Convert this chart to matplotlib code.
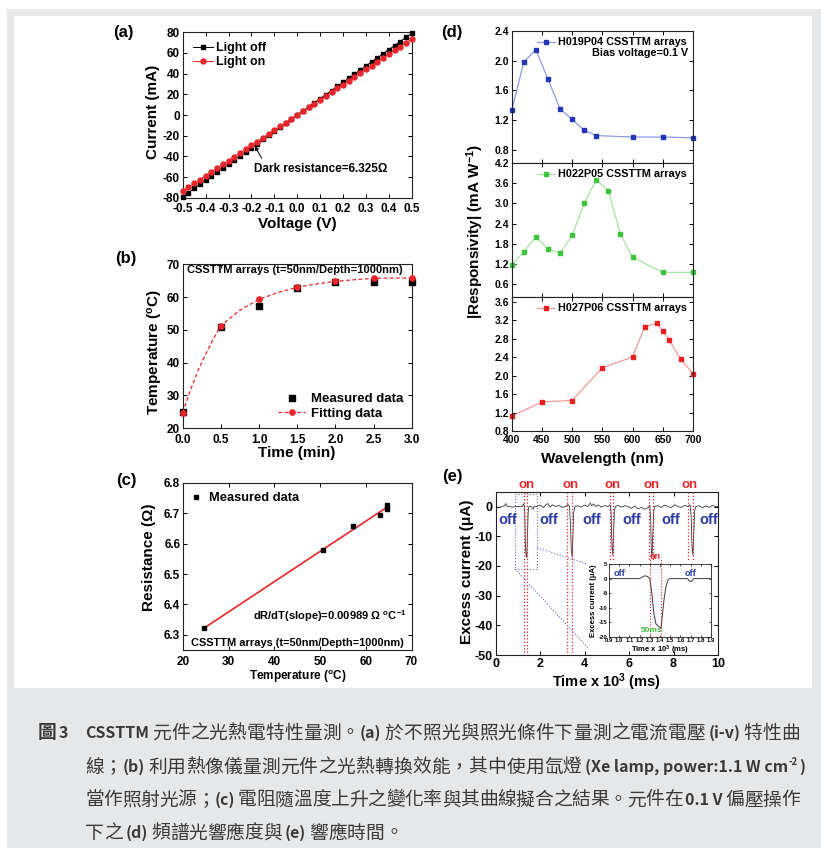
import matplotlib
matplotlib.use("Agg")
import matplotlib.pyplot as plt
from matplotlib.patches import Rectangle
from matplotlib.ticker import FormatStrFormatter, MultipleLocator

plt.rcParams.update({
    "font.family": ["Liberation Sans", "DejaVu Sans"],
    "font.weight": "bold",
    "axes.labelweight": "bold",
    "font.size": 8.5,
    "axes.linewidth": 0.8,
    "axes.edgecolor": "#222222",
    "axes.unicode_minus": False,
    "xtick.direction": "in",
    "ytick.direction": "in",
    "xtick.top": True,
    "ytick.right": True,
    "xtick.major.size": 3,
    "ytick.major.size": 3,
    "xtick.major.width": 0.7,
    "ytick.major.width": 0.7,
    "mathtext.fontset": "custom",
    "mathtext.rm": "Liberation Sans:bold",
    "mathtext.bf": "Liberation Sans:bold",
    "mathtext.it": "Liberation Sans:italic:bold",
    "mathtext.default": "regular",
})

W, H = 821, 848
GREY = "#e6e7e8"
RED = "#e8262a"
BLUE_TXT = "#2b3aa6"
ZOOM_BLUE = "#6b6bd0"
TRACE = "#3a3a3a"

# (a) i-v curves
volt = [-0.5, -0.475, -0.45, -0.425, -0.4, -0.375, -0.35, -0.325, -0.3, -0.275,
        -0.25, -0.225, -0.2, -0.175, -0.15, -0.125, -0.1, -0.075, -0.05, -0.025,
        0.0, 0.025, 0.05, 0.075, 0.1, 0.125, 0.15, 0.175, 0.2, 0.225,
        0.25, 0.275, 0.3, 0.325, 0.35, 0.375, 0.4, 0.425, 0.45, 0.475, 0.5]
i_off = [-79.1, -75.1, -71.1, -67.2, -63.2, -59.3, -55.3, -51.4, -47.4, -43.5,
         -39.5, -35.6, -31.6, -27.7, -23.7, -19.8, -15.8, -11.9, -7.9, -4.0,
         0.0, 4.0, 7.9, 11.9, 15.8, 19.8, 23.7, 27.7, 31.6, 35.6,
         39.5, 43.5, 47.4, 51.4, 55.3, 59.3, 63.2, 67.2, 71.1, 75.1, 79.1]
i_on = [-73.5, -69.8, -66.2, -62.5, -58.8, -55.1, -51.5, -47.8, -44.1, -40.4,
        -36.8, -33.1, -29.4, -25.7, -22.1, -18.4, -14.7, -11.0, -7.4, -3.7,
        0.0, 3.7, 7.4, 11.0, 14.7, 18.4, 22.1, 25.7, 29.4, 33.1,
        36.8, 40.4, 44.1, 47.8, 51.5, 55.1, 58.8, 62.5, 66.2, 69.8, 73.5]

# (b) temperature vs time
t_meas = [0.0, 0.5, 1.0, 1.5, 2.0, 2.5, 3.0]
T_meas = [25.0, 50.9, 57.4, 62.9, 64.7, 64.6, 64.6]
t_fit = [0.0, 0.1, 0.2, 0.3, 0.4, 0.5, 0.75, 1.0, 1.25, 1.5, 1.75, 2.0, 2.25, 2.5, 2.75, 3.0]
T_fit = [24.7, 31.5, 37.5, 42.5, 47.2, 51.3, 56.0, 59.3, 61.4, 63.0, 64.0, 64.8, 65.3, 65.7, 65.8, 65.8]
fit_marks = [0, 5, 7, 9, 11, 13, 15]

# (c) resistance vs temperature
temp_c = [24.6, 50.7, 57.3, 63.0, 64.6, 64.6]
res_c = [6.324, 6.579, 6.659, 6.696, 6.714, 6.727]
fitline_T = [24.6, 64.8]
fitline_R = [6.322, 6.722]

# (d) spectral responsivity
wl_1 = [400, 420, 440, 460, 480, 500, 520, 540, 600, 650, 700]
resp_1 = [1.33, 1.98, 2.15, 1.75, 1.35, 1.21, 1.06, 0.99, 0.97, 0.97, 0.96]
wl_2 = [400, 420, 440, 460, 480, 500, 520, 540, 560, 580, 600, 650, 700]
resp_2 = [1.18, 1.56, 2.00, 1.65, 1.53, 2.05, 3.00, 3.70, 3.38, 2.08, 1.40, 0.95, 0.95]
wl_3 = [400, 450, 500, 550, 600, 620, 640, 650, 660, 680, 700]
resp_3 = [1.12, 1.43, 1.46, 2.17, 2.40, 3.05, 3.13, 2.96, 2.78, 2.35, 2.04]

# (e) response time trace
e_time = [0.00, 0.15, 0.30, 0.40, 0.45, 0.50, 0.60, 0.75, 0.90, 1.05, 1.20, 1.25, 1.29, 1.31, 1.34, 1.37, 1.40, 1.43, 1.46, 1.49,
          1.60, 1.69, 1.72, 1.85, 2.00, 2.15, 2.25, 2.35, 2.45, 2.55, 2.70, 2.85, 3.00, 3.15, 3.25, 3.32, 3.36, 3.40, 3.44, 3.47, 3.51, 3.56,
          3.70, 3.85, 4.00, 4.15, 4.25, 4.32, 4.40, 4.50, 4.60, 4.75, 4.90, 5.05, 5.15, 5.19, 5.23, 5.27, 5.30, 5.34, 5.38,
          5.50, 5.65, 5.80, 5.95, 6.10, 6.25, 6.40, 6.55, 6.70, 6.85, 6.93, 6.97, 7.00, 7.03, 7.07, 7.11, 7.15,
          7.30, 7.45, 7.60, 7.75, 7.90, 8.05, 8.20, 8.35, 8.50, 8.65, 8.74, 8.79, 8.83, 8.87, 8.91, 8.95, 9.00,
          9.15, 9.30, 9.45, 9.60, 9.75, 9.90, 10.0]
e_current = [0.0, -0.3, 0.0, 0.3, 1.0, 0.2, 0.0, -0.2, 0.0, 0.0, 0.0, 0.9, 0.3, -3.0, -14.0, -16.5, -17.1, -9.0, -2.0, 0.0,
             0.0, -0.9, 0.0, 0.0, 0.5, -0.3, 0.6, 1.0, -0.2, 0.6, 0.0, 0.4, -0.3, 0.0, 0.7, 0.0, -5.0, -15.0, -17.0, -10.0, -2.0, 0.0,
             0.3, -0.2, 0.5, 0.0, 1.2, 0.2, 0.9, 0.0, 0.6, -0.2, 0.3, 0.0, 0.6, -2.0, -13.5, -16.3, -9.0, -1.5, 0.0,
             0.4, -0.2, 0.3, 0.0, -0.6, 0.2, -0.8, -0.3, -0.9, -0.4, 0.5, -4.0, -15.0, -17.3, -9.0, -1.5, 0.0,
             0.3, -0.3, 0.5, 0.0, -0.4, 0.6, 0.0, -0.3, 0.4, 0.0, 0.6, -3.0, -13.5, -16.3, -9.0, -1.5, 0.0,
             0.3, -0.4, 0.2, -0.3, 0.4, 0.0, 0.0]
on_left = [1.27, 3.19, 5.14, 6.90, 8.66]
on_right = [1.42, 3.42, 5.29, 7.06, 8.89]
on_bottom = [-50, -50, -18, -18, -18]
on_label_x = [1.38, 3.37, 5.25, 7.00, 8.74]
off_label_x = [0.52, 2.37, 4.32, 6.12, 7.87, 9.57]
zoom_box = [0.87, -21.0, 1.87, 4.2]
zoom_link_1 = ([1.87, 4.09], [-13.9, -19.3])
zoom_link_2 = ([0.87, 4.17], [-21.0, -47.8])

# (e) inset
ins_t = [0.90, 1.00, 1.10, 1.20, 1.23, 1.255, 1.28, 1.30, 1.32, 1.34, 1.36, 1.38, 1.40, 1.41,
         1.425, 1.44, 1.46, 1.48, 1.50, 1.60, 1.67, 1.69, 1.71, 1.73, 1.80, 1.90]
ins_I = [0.0, 0.0, 0.0, 0.0, 0.6, 1.0, 0.6, 0.0, -5.0, -12.0, -15.5, -16.2, -16.7, -17.0,
         -12.0, -7.0, -2.5, -0.3, 0.0, 0.0, 0.0, -0.9, -0.9, 0.0, 0.0, 0.0]
ins_on = [1.30, 1.41]
ins_off_x = [1.0, 1.7]

# caption (text, kind, gap before in px)
cap_lines = [
    [("CSSTTM", "lat", 0), ("元件之光熱電特性量測。", "cjk", 3), ("(a)", "lat", 0),
     ("於不照光與照光條件下量測之電流電壓", "cjk", 3), ("(i-v)", "lat", 3), ("特性曲", "cjk", 3)],
    [("線；", "cjk", 0), ("(b)", "lat", 0), ("利用熱像儀量測元件之光熱轉換效能，其中使用氙燈", "cjk", 3),
     ("(Xe lamp, power:1.1 W cm", "lat", 3), ("-2", "sup", 1), (")", "lat", 1)],
    [("當作照射光源；", "cjk", 0), ("(c)", "lat", 0),
     ("電阻隨溫度上升之變化率與其曲線擬合之結果。元件在", "cjk", 3), ("0.1 V", "lat", 3), ("偏壓操作", "cjk", 3)],
    [("下之", "cjk", 0), ("(d)", "lat", 3), ("頻譜光響應度與", "cjk", 3), ("(e)", "lat", 3), ("響應時間。", "cjk", 3)],
]
cap_y = [733, 767, 800, 833]
cap_end = [800, 805, 800, None]


fig = plt.figure(figsize=(W / 100, H / 100), dpi=100)
fig.patch.set_facecolor("white")
fig.add_artist(Rectangle((7 / W, 0), 1, (H - 9) / H, transform=fig.transFigure,
                         facecolor=GREY, edgecolor="none", zorder=-20))
fig.add_artist(Rectangle((14 / W, 1 - 688 / H), (812 - 14) / W, (688 - 16) / H,
                         transform=fig.transFigure, facecolor="white", edgecolor="none", zorder=-19))


def rect(l, t, r, b):
    return [l / W, 1 - b / H, (r - l) / W, (b - t) / H]


def ftext(x, y, s, **kw):
    kw.setdefault("ha", "center")
    kw.setdefault("va", "center")
    return fig.text(x / W, 1 - y / H, s, **kw)


# ---------------- (a)
ax = fig.add_axes(rect(182.7, 32.3, 411.7, 197.7))
ax.plot(volt, i_off, color="black", lw=0.7, marker="s", ms=3.3, label="Light off", clip_on=False, zorder=3)
ax.plot(volt, i_on, color=RED, lw=0.7, marker="o", ms=3.6, label="Light on", clip_on=False, zorder=4)
ax.set_xlim(-0.5, 0.5)
ax.set_ylim(-80, 80)
ax.xaxis.set_major_locator(MultipleLocator(0.1))
ax.yaxis.set_major_locator(MultipleLocator(20))
ax.xaxis.set_major_formatter(FormatStrFormatter("%.1f"))
ax.tick_params(labelsize=8.5, pad=2)
ax.tick_params(axis="x", pad=4)
ax.legend(loc="upper left", frameon=False, fontsize=9, handlelength=1.6, handletextpad=0.3,
          labelspacing=0.15, borderaxespad=0.4)
ax.text(-0.19, -52, "Dark resistance=6.325\u03a9", fontsize=8.5, va="center")
ax.annotate("", xy=(-0.185, -30), xytext=(-0.155, -42),
            arrowprops=dict(arrowstyle="-|>", color="k", lw=0.7, mutation_scale=6, shrinkA=0, shrinkB=0))
ftext(153, 112, "Current (mA)", fontsize=11, rotation=90)
ftext(297, 224, "Voltage (V)", fontsize=11)
ftext(123, 33, "(a)", fontsize=12)

# ---------------- (b)
ax = fig.add_axes(rect(182.7, 264.3, 411.7, 428))
ax.plot(t_meas, T_meas, "s", color="k", ms=3.8, label="Measured data", clip_on=False, zorder=3)
ax.plot(t_fit, T_fit, "--", color=RED, lw=0.9, dashes=(3, 2), marker="o", ms=3.8,
        markevery=fit_marks, label="Fitting data", clip_on=False, zorder=4)
ax.set_xlim(0, 3)
ax.set_ylim(20, 70)
ax.xaxis.set_major_locator(MultipleLocator(0.5))
ax.yaxis.set_major_locator(MultipleLocator(10))
ax.xaxis.set_major_formatter(FormatStrFormatter("%.1f"))
ax.tick_params(labelsize=8.5, pad=2)
ax.tick_params(axis="x", pad=4)
ax.legend(loc="lower right", frameon=False, fontsize=9.5, handlelength=2.0, handletextpad=0.5,
          labelspacing=0.2, borderaxespad=0.2)
ax.text(0.02, 0.968, "CSSTTM arrays (t=50nm/Depth=1000nm)", transform=ax.transAxes, fontsize=8, va="center")
ftext(155, 352, "Temperature ($^{o}$C)", fontsize=11, rotation=90)
ftext(297, 453, "Time (min)", fontsize=11)
ftext(126, 258, "(b)", fontsize=12)

# ---------------- (c)
ax = fig.add_axes(rect(183, 483, 411.5, 650))
ax.plot(temp_c, res_c, "s", color="k", ms=3.3, label="Measured data", zorder=3)
ax.plot(fitline_T, fitline_R, color=RED, lw=1.2, zorder=2)
ax.set_xlim(20, 70)
ax.set_ylim(6.25, 6.8)
ax.xaxis.set_major_locator(MultipleLocator(10))
ax.yaxis.set_major_locator(MultipleLocator(0.1))
ax.yaxis.set_major_formatter(FormatStrFormatter("%.1f"))
ax.tick_params(labelsize=8.5, pad=2)
ax.tick_params(axis="x", pad=4)
ax.legend(loc="upper left", frameon=False, fontsize=9.3, handlelength=0.6, handletextpad=0.7,
          borderaxespad=0.3)
ax.text(0.979, 0.204, "dR/dT(slope)=0.00989 \u03a9 $^{o}$C$^{-1}$", transform=ax.transAxes,
        fontsize=8, ha="right", va="center")
ax.text(0.034, 0.044, "CSSTTM arrays (t=50nm/Depth=1000nm)", transform=ax.transAxes,
        fontsize=7.9, va="center")
ftext(148.5, 557, "Resistance (\u03a9)", fontsize=11, rotation=90)
ftext(297.5, 677, "Temperature ($^{o}$C)", fontsize=8.5)
ftext(126, 480, "(c)", fontsize=12)

# ---------------- (d)
d_rows = [
    (31, 163, wl_1, resp_1, "#8d9ae8", "#2436b8", "H019P04 CSSTTM arrays", (0.62, 2.4), 0.4),
    (163, 297, wl_2, resp_2, "#a8e2a0", "#3cc43c", "H022P05 CSSTTM arrays", (0.22, 4.2), 0.6),
    (297, 431, wl_3, resp_3, "#f29a9a", "#e82020", "H027P06 CSSTTM arrays", (0.8, 3.7), 0.4),
]
for k, (top, bot, xs, ys, lc, mc, lab, ylim, step) in enumerate(d_rows):
    ax = fig.add_axes(rect(511.7, top, 693, bot))
    ax.plot(xs, ys, "-", color=lc, lw=0.9, marker="s", ms=2.8, mfc=mc, mec=mc, label=lab, clip_on=False)
    ax.set_xlim(400, 700)
    ax.set_ylim(*ylim)
    ax.xaxis.set_major_locator(MultipleLocator(50))
    ax.yaxis.set_major_locator(MultipleLocator(step))
    ax.yaxis.set_major_formatter(FormatStrFormatter("%.1f"))
    ax.tick_params(labelsize=7.5, pad=2)
    ax.tick_params(axis="x", pad=3)
    if k < 2:
        ax.tick_params(labelbottom=False)
    ax.legend(loc="upper right", frameon=False, fontsize=7.8, handlelength=1.6, handletextpad=0.3,
              borderaxespad=0.2)
    if k == 0:
        ax.text(0.972, 0.836, "Bias voltage=0.1 V", transform=ax.transAxes, fontsize=7.8,
                ha="right", va="center")
ftext(475, 231, "|Responsivity| (mA W$^{-1}$)", fontsize=11, rotation=90)
ftext(602, 459, "Wavelength (nm)", fontsize=11)
ftext(452, 32, "(d)", fontsize=12)

# ---------------- (e)
ax = fig.add_axes(rect(495.7, 491.7, 718, 655))
ax.plot(e_time, e_current, color=TRACE, lw=0.6)
ax.set_xlim(0, 10)
ax.set_ylim(-50, 5)
ax.xaxis.set_major_locator(MultipleLocator(2))
ax.yaxis.set_major_locator(MultipleLocator(10))
ax.tick_params(labelsize=9, pad=2)
for x0, x1, yb in zip(on_left, on_right, on_bottom):
    for xv in (x0, x1):
        ax.plot([xv, xv], [5, yb], ls=":", color=RED, lw=0.9)
trans = ax.get_xaxis_transform()
for xv in on_label_x:
    ax.text(xv, 1.005, "on", transform=trans, color=RED, fontsize=9.5, ha="center", va="bottom")
for xv in off_label_x:
    ax.text(xv, -4.5, "off", color=BLUE_TXT, fontsize=10.5, ha="center", va="center")
ax.add_patch(Rectangle((zoom_box[0], zoom_box[1]), zoom_box[2] - zoom_box[0], zoom_box[3] - zoom_box[1],
                       fill=False, ls=":", ec=ZOOM_BLUE, lw=0.8))
ax.plot(*zoom_link_1, ls=":", color=ZOOM_BLUE, lw=0.8)
ax.plot(*zoom_link_2, ls=":", color=ZOOM_BLUE, lw=0.8)
ftext(467, 572, "Excess current (\u03bcA)", fontsize=11, rotation=90)
ftext(607, 682, "Time x 10$^{3}$ (ms)", fontsize=10.5)
ftext(452, 477, "(e)", fontsize=12)

ins = fig.add_axes(rect(609, 564, 711, 637))
ins.plot(ins_t, ins_I, color=TRACE, lw=0.7)
ins.set_xlim(0.9, 1.9)
ins.set_ylim(-20, 5)
ins.xaxis.set_major_locator(MultipleLocator(0.1))
ins.yaxis.set_major_locator(MultipleLocator(5))
ins.xaxis.set_major_formatter(FormatStrFormatter("%.1f"))
ins.tick_params(labelsize=4.3, length=1.5, width=0.5, pad=1)
for sp in ins.spines.values():
    sp.set_linewidth(0.6)
for xv in ins_on:
    ins.plot([xv, xv], [-20, 7], ls=":", color=RED, lw=0.8, clip_on=False)
ins.text(sum(ins_on) / 2, 1.04, "on", transform=ins.get_xaxis_transform(), color=RED,
         fontsize=6.5, ha="center", va="bottom")
for xv in ins_off_x:
    ins.text(xv, 1.8, "off", color=BLUE_TXT, fontsize=6.5, ha="center", va="center")
ins.text(1.32, -17.8, "50ms", color="#3cb83c", fontsize=6, ha="center", va="center")
ins.set_ylabel("Excess current (\u03bcA)", fontsize=5.5, labelpad=1)
ins.set_xlabel("Time x 10$^{3}$ (ms)", fontsize=5.5, labelpad=0.5)

# ---------------- caption
renderer = fig.canvas.get_renderer()
CAP_COLOR = "#3a3a3a"
CJK = ["Noto Sans CJK TC", "DejaVu Sans"]
CJK_SIZE = 13.5
LAT_SIZE = 11.5


def caption_line(x0, y, parts, x_end):
    # split CJK runs into single characters so a justified line spreads evenly
    pieces = []
    for s, kind, gap in parts:
        if kind == "cjk":
            for j, ch in enumerate(s):
                pieces.append((ch, kind, gap if j == 0 else 0))
        else:
            pieces.append((s, kind, gap))
    arts, flex = [], []
    x = x0
    for i, (s, kind, gap) in enumerate(pieces):
        x += gap
        if kind == "cjk":
            t = ftext(x, y, s, ha="left", fontsize=CJK_SIZE, family=CJK, weight="normal", color=CAP_COLOR)
            x += CJK_SIZE * 100 / 72
        else:
            size = LAT_SIZE if kind == "lat" else LAT_SIZE * 0.6
            dy = 0 if kind == "lat" else -5
            t = ftext(x, y + dy, s, ha="left", fontsize=size, family=CJK, weight="bold", color=CAP_COLOR)
            x += t.get_window_extent(renderer).width
        arts.append(t)
        flex.append(i > 0 and gap != 1)
    if x_end is not None:
        extra = (x_end - x) / max(sum(flex), 1)
        shift = 0.0
        for t, f in zip(arts, flex):
            if f:
                shift += extra
            px, py = t.get_position()
            t.set_position((px + shift / W, py))


ftext(38, cap_y[0], "圖", ha="left", fontsize=CJK_SIZE, family=CJK, weight="bold", color=CAP_COLOR)
ftext(59, cap_y[0], "3", ha="left", fontsize=LAT_SIZE, family=CJK, weight="bold", color=CAP_COLOR)
for parts, yy, xe in zip(cap_lines, cap_y, cap_end):
    caption_line(85, yy, parts, xe)

fig.savefig("out.png", dpi=100)
